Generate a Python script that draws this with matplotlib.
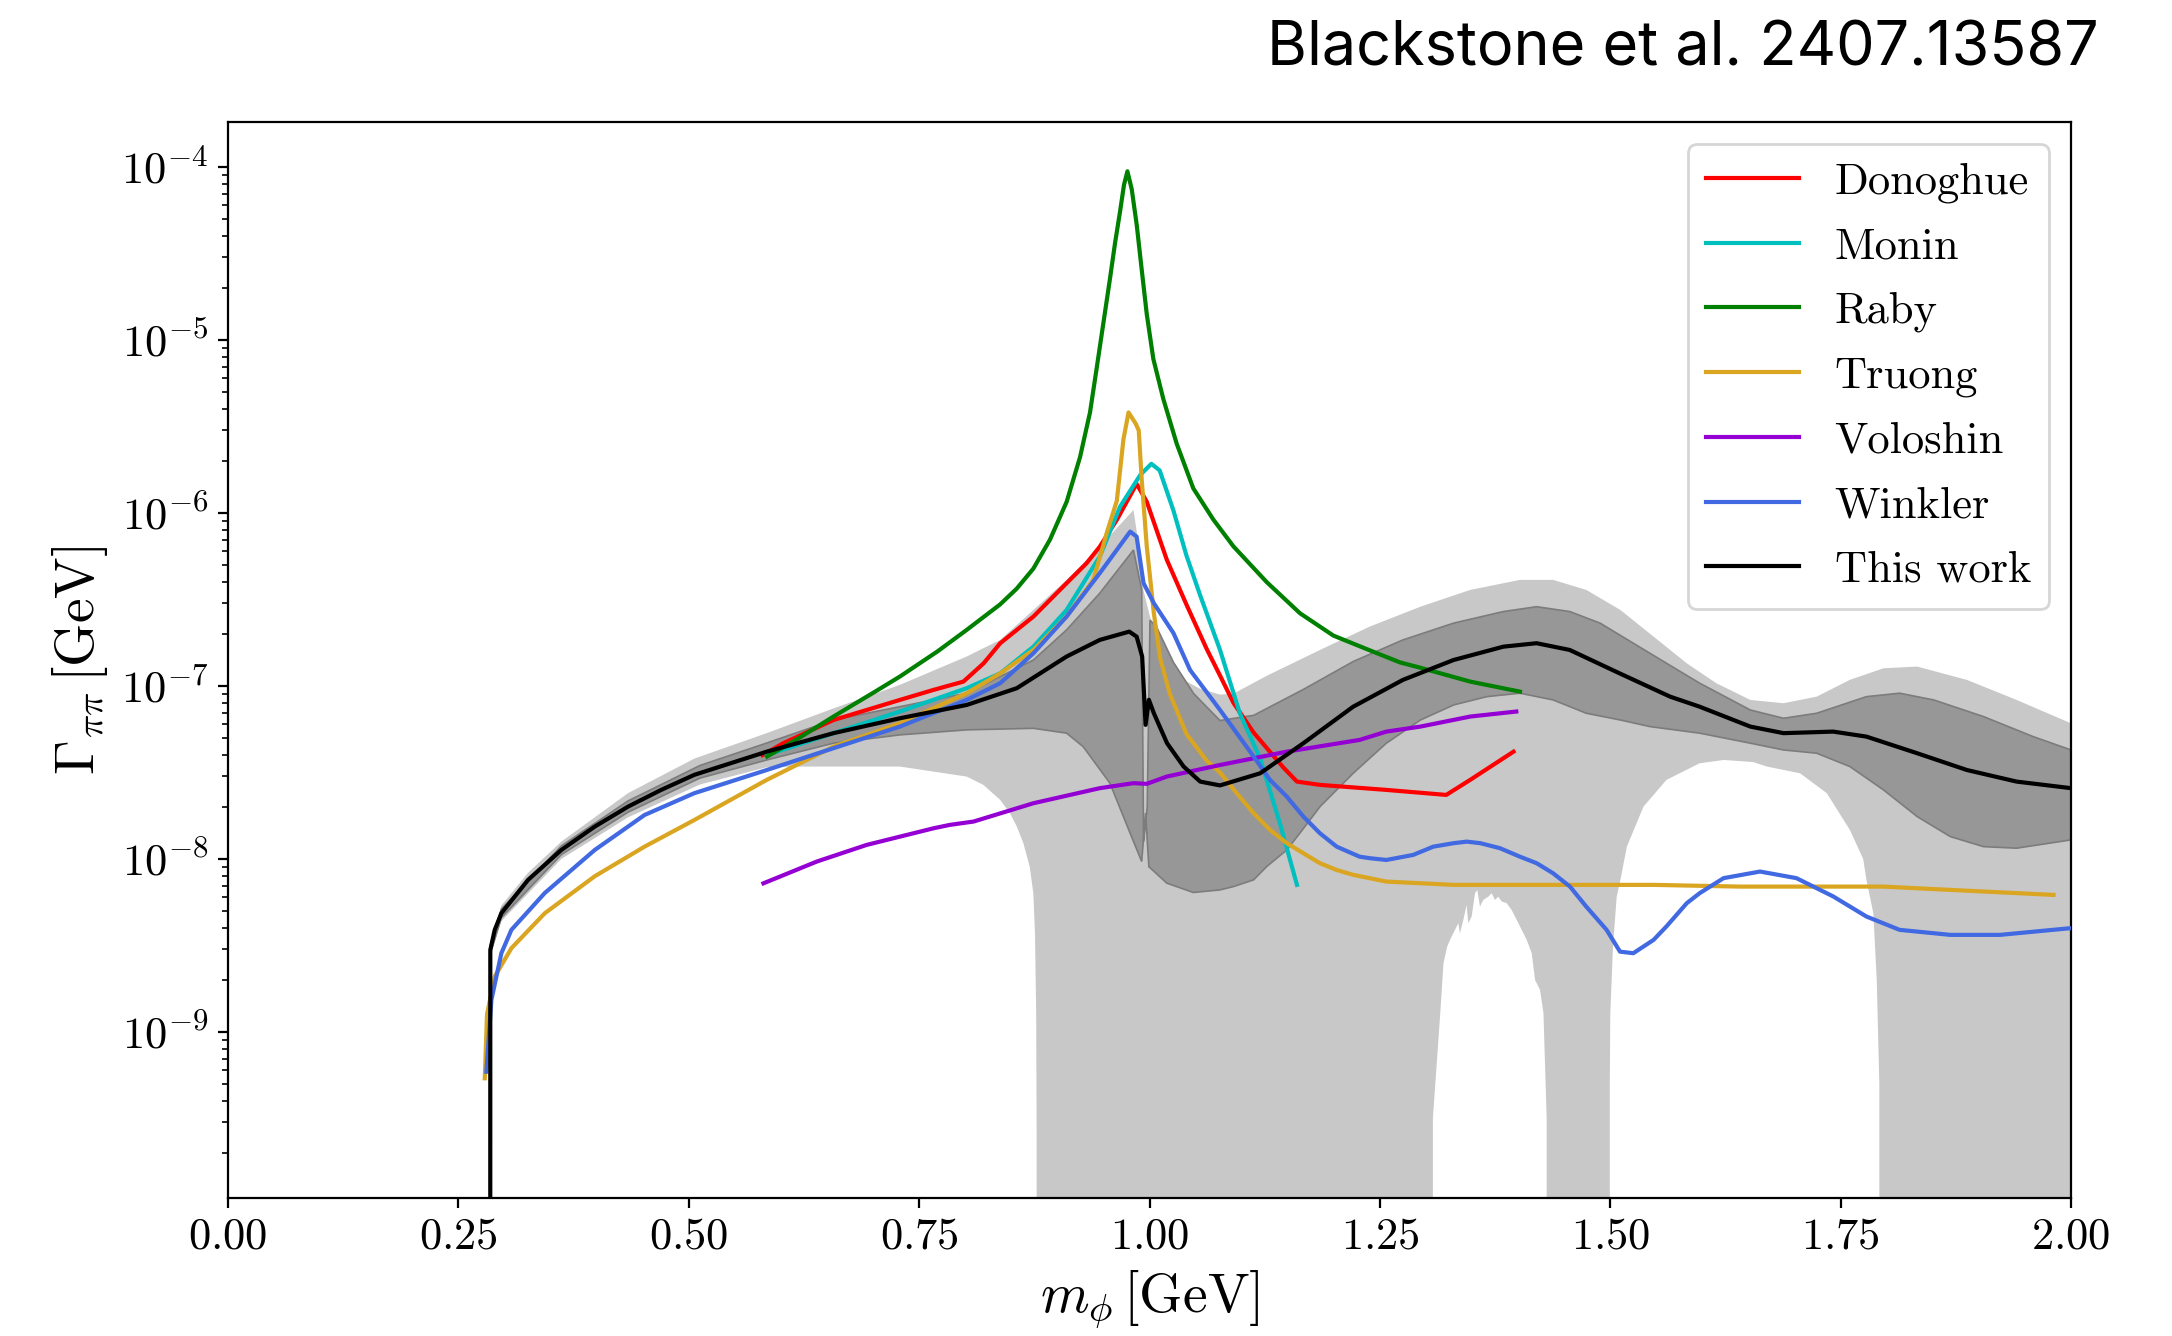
import numpy as np
import matplotlib as mpl
mpl.use('Agg')
import matplotlib.pyplot as plt

plt.rcParams['font.family'] = 'serif'
plt.rcParams['font.serif'] = ['cmr10']
plt.rcParams['mathtext.fontset'] = 'cm'
plt.rcParams['axes.formatter.use_mathtext'] = True

# ---- curves: m_phi in GeV, widths stored as log10(Gamma / GeV) ----
donoghue_x = [0.580, 0.6026, 0.657, 0.693, 0.729, 0.7655, 0.798, 0.820, 0.838, 0.874, 0.910, 0.9316,
              0.946, 0.9645, 0.986, 0.997, 1.0187, 1.040, 1.062, 1.0765, 1.091, 1.113, 1.145, 1.160,
              1.185, 1.257, 1.322, 1.348, 1.395]
donoghue_log = [-7.40, -7.331, -7.197, -7.139, -7.081, -7.023, -6.975, -6.869, -6.753, -6.599, -6.406, -6.291,
                -6.195, -6.04, -5.832, -5.935, -6.27, -6.529, -6.786, -6.94, -7.097, -7.27, -7.47, -7.553,
                -7.572, -7.601, -7.63, -7.543, -7.38]

monin_x = [0.5846, 0.657, 0.729, 0.8016, 0.838, 0.874, 0.910, 0.946, 0.968, 0.990, 1.002, 1.011,
           1.026, 1.040, 1.055, 1.0765, 1.098, 1.120, 1.1415, 1.160]
monin_log = [-7.399, -7.273, -7.148, -7.013, -6.927, -6.773, -6.561, -6.252, -5.964, -5.78, -5.716, -5.754,
             -5.987, -6.245, -6.477, -6.792, -7.158, -7.42, -7.794, -8.15]

raby_x = [0.585, 0.620, 0.657, 0.700, 0.729, 0.770, 0.8016, 0.8378, 0.8558, 0.8739, 0.892, 0.9101,
          0.9246, 0.9354, 0.9427, 0.9499, 0.9571, 0.9626, 0.968, 0.9723, 0.976, 0.9807, 0.9861, 0.9915,
          0.997, 1.0041, 1.015, 1.0295, 1.0475, 1.0692, 1.091, 1.1272, 1.1633, 1.1995, 1.2357, 1.2718,
          1.294, 1.348, 1.402]
raby_log = [-7.408, -7.30, -7.177, -7.04, -6.946, -6.80, -6.676, -6.529, -6.438, -6.322, -6.154, -5.935,
            -5.677, -5.419, -5.161, -4.903, -4.645, -4.439, -4.258, -4.103, -4.025, -4.129, -4.335, -4.593,
            -4.851, -5.109, -5.342, -5.60, -5.858, -6.038, -6.193, -6.40, -6.58, -6.709, -6.787, -6.864,
            -6.895, -6.975, -7.033]

truong_x = [0.2786, 0.2810, 0.2894, 0.3075, 0.3437, 0.398, 0.452, 0.506, 0.5846, 0.657, 0.729, 0.8016,
            0.838, 0.874, 0.910, 0.939, 0.9535, 0.9645, 0.9717, 0.9772, 0.985, 0.9883, 0.9915, 0.997,
            1.0047, 1.0115, 1.022, 1.040, 1.062, 1.0765, 1.0946, 1.113, 1.1307, 1.149, 1.1669, 1.185,
            1.2031, 1.221, 1.257, 1.330, 1.438, 1.547, 1.641, 1.7965, 1.869, 1.981]
truong_log = [-9.268, -8.90, -8.68, -8.516, -8.314, -8.10, -7.929, -7.775, -7.543, -7.351, -7.216, -7.042,
              -6.927, -6.792, -6.599, -6.387, -6.117, -5.93, -5.574, -5.419, -5.484, -5.523, -5.806, -6.193,
              -6.58, -6.838, -7.045, -7.277, -7.432, -7.50, -7.62, -7.736, -7.832, -7.909, -7.967, -8.025,
              -8.064, -8.092, -8.131, -8.15, -8.15, -8.15, -8.16, -8.16, -8.179, -8.208]

voloshin_x = [0.581, 0.639, 0.693, 0.7655, 0.7835, 0.809, 0.874, 0.946, 0.9826, 0.997, 1.0187, 1.0765,
              1.149, 1.228, 1.257, 1.294, 1.348, 1.398]
voloshin_log = [-8.141, -8.015, -7.919, -7.823, -7.803, -7.784, -7.678, -7.591, -7.562, -7.566, -7.524, -7.457,
                -7.38, -7.312, -7.264, -7.235, -7.177, -7.148]

winkler_x = [0.2803, 0.2858, 0.2966, 0.3075, 0.3437, 0.398, 0.452, 0.506, 0.5846, 0.657, 0.729, 0.8016,
             0.838, 0.874, 0.910, 0.946, 0.979, 0.986, 0.9935, 1.0047, 1.026, 1.044, 1.0765, 1.113,
             1.1307, 1.149, 1.1669, 1.185, 1.2031, 1.228, 1.2393, 1.257, 1.286, 1.308, 1.330, 1.3442,
             1.359, 1.3803, 1.402, 1.4202, 1.438, 1.4563, 1.474, 1.496, 1.5106, 1.525, 1.547, 1.561,
             1.583, 1.597, 1.623, 1.6625, 1.702, 1.742, 1.778, 1.814, 1.869, 1.923, 2.0]
winkler_log = [-9.23, -8.815, -8.545, -8.41, -8.197, -7.948, -7.746, -7.62, -7.486, -7.36, -7.235, -7.081,
               -6.984, -6.811, -6.599, -6.348, -6.108, -6.137, -6.406, -6.522, -6.695, -6.908, -7.139, -7.408,
               -7.543, -7.64, -7.755, -7.852, -7.929, -7.987, -7.996, -8.006, -7.977, -7.929, -7.909, -7.90,
               -7.909, -7.938, -7.987, -8.025, -8.083, -8.16, -8.276, -8.41, -8.536, -8.545, -8.468, -8.39,
               -8.256, -8.198, -8.111, -8.073, -8.111, -8.217, -8.333, -8.41, -8.439, -8.439, -8.40]

# central value of this work (first point sits at the threshold, width -> 0)
work_x = [0.2845, 0.2846, 0.2894, 0.2966, 0.3256, 0.3617, 0.398, 0.434, 0.470, 0.506, 0.5846, 0.657,
          0.729, 0.8016, 0.856, 0.910, 0.946, 0.978, 0.986, 0.992, 0.9957, 0.9993, 1.0047, 1.019,
          1.037, 1.055, 1.0765, 1.120, 1.167, 1.221, 1.275, 1.330, 1.384, 1.420, 1.456, 1.510,
          1.565, 1.597, 1.652, 1.688, 1.742, 1.778, 1.833, 1.887, 1.941, 2.0]
work_log = [-12.0, -8.526, -8.41, -8.314, -8.121, -7.948, -7.813, -7.698, -7.601, -7.514, -7.38, -7.273,
            -7.187, -7.11, -7.013, -6.83, -6.734, -6.686, -6.715, -6.83, -7.225, -7.08, -7.158, -7.331,
            -7.466, -7.553, -7.575, -7.505, -7.331, -7.12, -6.965, -6.85, -6.773, -6.753, -6.792, -6.927,
            -7.062, -7.12, -7.235, -7.273, -7.264, -7.293, -7.389, -7.486, -7.553, -7.591]

# ---- uncertainty bands of this work (-inf = band edge at zero) ----
outer_hi_x = [0.2845, 0.2966, 0.3256, 0.3617, 0.434, 0.506, 0.5846, 0.657, 0.729, 0.8016, 0.838, 0.874,
              0.910, 0.946, 0.9826, 0.9915, 0.9935, 1.0005, 1.0187, 1.037, 1.055, 1.0765, 1.091, 1.127,
              1.185, 1.239, 1.294, 1.348, 1.402, 1.438, 1.474, 1.511, 1.547, 1.583, 1.615, 1.652,
              1.688, 1.724, 1.760, 1.7965, 1.833, 1.887, 1.941, 2.0]
outer_hi_log = [-8.50, -8.27, -8.08, -7.90, -7.62, -7.42, -7.273, -7.13, -6.994, -6.83, -6.734, -6.561,
                -6.387, -6.195, -5.983, -6.30, -6.45, -6.60, -6.838, -6.965, -7.017, -7.05, -7.045, -6.942,
                -6.792, -6.657, -6.542, -6.445, -6.387, -6.387, -6.445, -6.561, -6.715, -6.869, -6.984, -7.081,
                -7.10, -7.062, -6.965, -6.898, -6.888, -6.965, -7.081, -7.216]

outer_lo_x = [0.2845, 0.2966, 0.3617, 0.434, 0.512, 0.5846, 0.621, 0.729, 0.8016, 0.8197, 0.838, 0.8486,
              0.856, 0.8631, 0.870, 0.8739, 0.8757, 0.877, 0.8775, 0.8785, 1.307, 1.3075, 1.3155, 1.319,
              1.323, 1.3261, 1.3315, 1.3351, 1.3369, 1.3405, 1.3441, 1.3459, 1.3496, 1.3532, 1.3557, 1.3586,
              1.3622, 1.3677, 1.3713, 1.3749, 1.3785, 1.3822, 1.3876, 1.393, 1.3985, 1.4039, 1.4093, 1.4148,
              1.4184, 1.4238, 1.4275, 1.431, 1.4315, 1.499, 1.4995, 1.500, 1.503, 1.507, 1.511, 1.518,
              1.536, 1.561, 1.597, 1.623, 1.655, 1.670, 1.706, 1.735, 1.760, 1.7745, 1.778, 1.7855,
              1.7892, 1.792, 1.794, 2.0]
outer_lo_log = [-8.56, -8.36, -8.00, -7.76, -7.57, -7.47, -7.466, -7.466, -7.524, -7.572, -7.659, -7.736,
                -7.813, -7.909, -8.045, -8.198, -8.43, -8.90, -9.60, -np.inf, -np.inf, -9.50, -8.892, -8.603,
                -8.507, -8.468, -8.41, -8.372, -8.43, -8.353, -8.266, -8.372, -8.333, -8.198, -8.179, -8.276,
                -8.237, -8.218, -8.198, -8.237, -8.218, -8.246, -8.256, -8.295, -8.353, -8.41, -8.468, -8.545,
                -8.70, -8.757, -8.892, -9.50, -np.inf, -np.inf, -9.30, -8.90, -8.50, -8.218, -8.121, -7.929,
                -7.698, -7.543, -7.447, -7.428, -7.44, -7.466, -7.505, -7.62, -7.832, -8.00, -8.121, -8.314,
                -8.70, -9.30, -np.inf, -np.inf]

inner_hi_x = [0.2845, 0.2966, 0.3617, 0.434, 0.512, 0.5846, 0.657, 0.729, 0.8016, 0.874, 0.910, 0.946,
              0.9826, 0.9915, 0.9935, 0.9975, 1.0005, 1.0075, 1.026, 1.048, 1.0765, 1.113, 1.167, 1.221,
              1.275, 1.330, 1.384, 1.420, 1.456, 1.489, 1.543, 1.597, 1.652, 1.688, 1.724, 1.778,
              1.814, 1.851, 1.905, 1.959, 2.0]
inner_hi_log = [-8.50, -8.29, -7.925, -7.665, -7.46, -7.33, -7.197, -7.12, -7.042, -6.85, -6.676, -6.464,
                -6.214, -6.445, -7.90, -7.70, -6.62, -6.658, -6.864, -7.045, -7.20, -7.17, -7.02, -6.859,
                -6.734, -6.637, -6.57, -6.542, -6.57, -6.637, -6.811, -6.984, -7.139, -7.187, -7.158, -7.062,
                -7.042, -7.081, -7.177, -7.293, -7.37]

inner_lo_x = [0.2845, 0.2966, 0.3617, 0.434, 0.512, 0.5846, 0.657, 0.729, 0.8016, 0.874, 0.910, 0.928,
              0.957, 0.979, 0.9915, 0.9957, 0.9993, 1.0187, 1.0476, 1.0765, 1.091, 1.113, 1.127, 1.149,
              1.163, 1.185, 1.221, 1.257, 1.294, 1.330, 1.366, 1.402, 1.438, 1.474, 1.511, 1.543,
              1.597, 1.652, 1.688, 1.724, 1.760, 1.7965, 1.833, 1.869, 1.905, 1.941, 2.0]
inner_lo_log = [-8.55, -8.34, -7.975, -7.73, -7.533, -7.428, -7.331, -7.283, -7.254, -7.245, -7.273, -7.351,
                -7.562, -7.852, -8.015, -7.736, -8.045, -8.14, -8.194, -8.179, -8.16, -8.121, -8.045, -7.948,
                -7.852, -7.698, -7.505, -7.331, -7.197, -7.11, -7.062, -7.042, -7.081, -7.158, -7.197, -7.235,
                -7.273, -7.331, -7.37, -7.389, -7.466, -7.601, -7.755, -7.871, -7.929, -7.938, -7.89]

curves = [
    ('Donoghue', donoghue_x, donoghue_log, 'red'),
    ('Monin', monin_x, monin_log, 'c'),
    ('Raby', raby_x, raby_log, 'green'),
    ('Truong', truong_x, truong_log, 'goldenrod'),
    ('Voloshin', voloshin_x, voloshin_log, 'darkviolet'),
    ('Winkler', winkler_x, winkler_log, 'royalblue'),
    ('This work', work_x, work_log, 'black'),
]


def band(ax, hx, hl, lx, ll, **kw):
    # closed polygon: upper edge left->right, lower edge right->left
    xs = np.concatenate([hx, lx[::-1]])
    ys = 10.0 ** np.concatenate([hl, ll[::-1]])
    ax.fill(xs, ys, **kw)


fig = plt.figure(figsize=(10.86, 6.68), dpi=200)
ax = fig.add_axes([0.105, 0.1033, 0.8485, 0.8054])
ax.set_yscale('log')

band(ax, np.array(outer_hi_x), np.array(outer_hi_log), np.array(outer_lo_x), np.array(outer_lo_log),
     facecolor='#c8c8c8', edgecolor='none', zorder=1)
band(ax, np.array(inner_hi_x), np.array(inner_hi_log), np.array(inner_lo_x), np.array(inner_lo_log),
     facecolor='#979797', edgecolor='#7c7c7c', linewidth=0.6, zorder=2)

for name, xs, ls, col in curves:
    ax.plot(xs, 10.0 ** np.array(ls), color=col, lw=1.5, label=name, zorder=3)

ax.set_xlim(0, 2)
ax.set_ylim(10 ** -9.96, 10 ** -3.74)
ax.set_xticks(np.arange(0, 2.01, 0.25))
ax.tick_params(labelsize=16)
ax.set_xlabel(r'$m_\phi\,[\mathrm{GeV}]$', fontsize=20, labelpad=4)
ax.set_ylabel(r'$\Gamma_{\pi\pi}\,[\mathrm{GeV}]$', fontsize=20)
ax.legend(loc='upper right', fontsize=16, labelspacing=0.55, handlelength=2.1)

fig.text(0.966, 0.9506, 'Blackstone et al. 2407.13587', family='Inter', fontsize=22,
         ha='right', va='baseline')

fig.savefig('out.png', dpi=200)
